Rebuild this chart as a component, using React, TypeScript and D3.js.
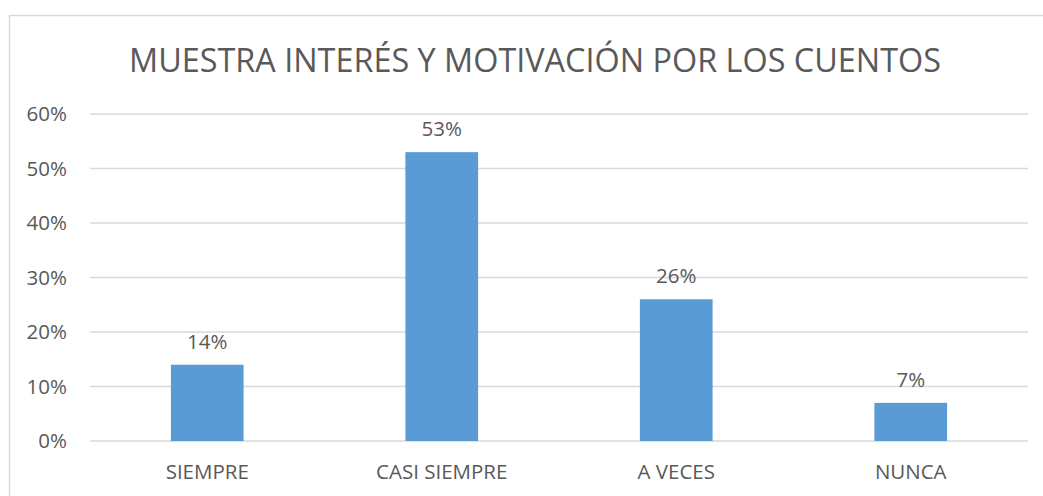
import React from "react";
import * as d3 from "d3";

const categories = ["SIEMPRE", "CASI SIEMPRE", "A VECES", "NUNCA"];
const values = [0.14, 0.53, 0.26, 0.07];
const yTicks = [0, 0.1, 0.2, 0.3, 0.4, 0.5, 0.6];
const title = "MUESTRA INTERÉS Y MOTIVACIÓN POR LOS CUENTOS";

export default function App() {
  const W = 1043, H = 496;
  const left = 90, right = 1028, top = 114, bottom = 441;
  const x = d3.scaleBand<string>().domain(categories).range([left, right]).paddingInner(0.69).paddingOuter(0.345);
  const y = d3.scaleLinear().domain([0, 0.6]).range([bottom, top]);
  const fmt = d3.format(".0%");
  const font = "'Open Sans', 'Liberation Sans', sans-serif";
  const textColor = "#595959";
  const fs = 20.5;
  return (
    <svg width={W} height={H} style={{ position: "absolute", left: 0, top: 0, background: "#fff" }} fontFamily={font}>
      <rect x={0} y={0} width={W} height={H} fill="#fff" />
      <path d="M9.5,500 V15.5 H1043" fill="none" stroke="#D9D9D9" strokeWidth={1.5} />
      <text x={535} y={72} textAnchor="middle" fontSize={32} fill={textColor} textLength={812} lengthAdjust="spacingAndGlyphs">{title}</text>
      {yTicks.map((t) => (
        <g key={t}>
          <line x1={left} x2={right} y1={y(t)} y2={y(t)} stroke="#D9D9D9" strokeWidth={1.5} />
          <text x={67} y={y(t) + 7} textAnchor="end" fontSize={fs} fill={textColor}>{fmt(t)}</text>
        </g>
      ))}
      {categories.map((c, i) => (
        <g key={c}>
          <rect x={x(c)} y={y(values[i])} width={x.bandwidth()} height={bottom - y(values[i])} fill="#5B9BD5" />
          <text x={(x(c) ?? 0) + x.bandwidth() / 2} y={y(values[i]) - 16} textAnchor="middle" fontSize={fs} fill={textColor}>{fmt(values[i])}</text>
          <text x={(x(c) ?? 0) + x.bandwidth() / 2} y={479} textAnchor="middle" fontSize={fs} fill={textColor}>{c}</text>
        </g>
      ))}
    </svg>
  );
}
